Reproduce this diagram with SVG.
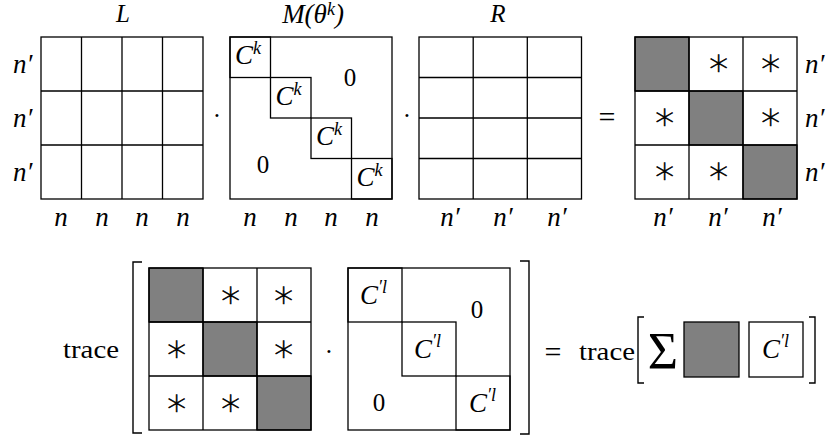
<svg xmlns="http://www.w3.org/2000/svg" width="830" height="437" viewBox="0 0 830 437">
<style>
.ln{fill:none;stroke:#000;stroke-width:1.3}
.gr{fill:#808080;stroke:#000;stroke-width:1.3}
.wb{fill:#fff;stroke:#000;stroke-width:1.3}
.br{fill:none;stroke:#000;stroke-width:1.4}
.it{font-family:"Liberation Serif","DejaVu Serif",serif;font-style:italic;font-size:27px;fill:#000}
.rm{font-family:"Liberation Serif","DejaVu Serif",serif;font-size:25px;fill:#000}
.tt{font-size:25px}
.sup{font-size:18px}
.ast{font-family:"DejaVu Sans",sans-serif;font-weight:200;font-size:38px;fill:#000;stroke:#000;stroke-width:0.6;text-anchor:middle}
.mid{text-anchor:middle}
</style>
<rect width="830" height="437" fill="#fff"/>

<g id="matrix-L">
  <rect class="ln" x="41" y="37" width="162" height="162"/>
  <path class="ln" d="M81.5 37V199M122 37V199M162.5 37V199M41 91H203M41 145H203"/>
  <text class="it tt mid" x="123" y="22">L</text>
  <text class="it" x="13" y="73">n′</text>
  <text class="it" x="13" y="127">n′</text>
  <text class="it" x="13" y="181">n′</text>
  <text class="it mid" x="61" y="226">n</text>
  <text class="it mid" x="102" y="226">n</text>
  <text class="it mid" x="142" y="226">n</text>
  <text class="it mid" x="183" y="226">n</text>
</g>

<g id="matrix-M">
  <rect class="ln" x="230" y="37" width="162" height="162"/>
  <rect class="ln" x="230" y="37" width="40.5" height="40.5"/>
  <rect class="ln" x="270.5" y="77.5" width="40.5" height="40.5"/>
  <rect class="ln" x="311" y="118" width="40.5" height="40.5"/>
  <rect class="ln" x="351.5" y="158.5" width="40.5" height="40.5"/>
  <text class="it mid" x="313" y="23">M(θ<tspan class="sup" dy="-8">k</tspan><tspan dy="8">)</tspan></text>
  <text class="it" x="235" y="64">C<tspan class="sup" dy="-10">k</tspan></text>
  <text class="it" x="275.5" y="104.5">C<tspan class="sup" dy="-10">k</tspan></text>
  <text class="it" x="316" y="145">C<tspan class="sup" dy="-10">k</tspan></text>
  <text class="it" x="356.5" y="185.5">C<tspan class="sup" dy="-10">k</tspan></text>
  <text class="rm mid" x="350" y="86">0</text>
  <text class="rm mid" x="263" y="173">0</text>
  <text class="it mid" x="250" y="226">n</text>
  <text class="it mid" x="291" y="226">n</text>
  <text class="it mid" x="331" y="226">n</text>
  <text class="it mid" x="372" y="226">n</text>
</g>

<g id="matrix-R">
  <rect class="ln" x="419" y="37" width="162.5" height="162"/>
  <path class="ln" d="M473.2 37V199M527.3 37V199M419 77.5H581.5M419 118H581.5M419 158.5H581.5"/>
  <text class="it tt mid" x="498" y="22">R</text>
  <text class="it mid" x="450" y="226">n′</text>
  <text class="it mid" x="503" y="226">n′</text>
  <text class="it mid" x="557" y="226">n′</text>
</g>

<g id="matrix-result">
  <rect class="gr" x="635" y="37" width="54" height="54"/>
  <rect class="gr" x="689" y="91" width="54" height="54"/>
  <rect class="gr" x="743" y="145" width="54" height="54"/>
  <rect class="ln" x="635" y="37" width="162" height="162"/>
  <path class="ln" d="M689 37V199M743 37V199M635 91H797M635 145H797"/>
  <text class="ast" x="719" y="75">∗</text>
  <text class="ast" x="771" y="75">∗</text>
  <text class="ast" x="665" y="129">∗</text>
  <text class="ast" x="771" y="129">∗</text>
  <text class="ast" x="665" y="183">∗</text>
  <text class="ast" x="719" y="183">∗</text>
  <text class="it" x="805" y="73">n′</text>
  <text class="it" x="805" y="127">n′</text>
  <text class="it" x="805" y="181">n′</text>
  <text class="it mid" x="663" y="226">n′</text>
  <text class="it mid" x="718" y="226">n′</text>
  <text class="it mid" x="772" y="226">n′</text>
</g>

<g id="operators-top">
  <text class="rm mid" x="217" y="124">·</text>
  <text class="rm mid" x="407" y="124">·</text>
  <text class="rm mid" x="607" y="127" style="font-size:30px">=</text>
</g>

<g id="matrix-bottom-left">
  <rect class="gr" x="149" y="268" width="54" height="54"/>
  <rect class="gr" x="203" y="322" width="54" height="54"/>
  <rect class="gr" x="257" y="376" width="54" height="54"/>
  <rect class="ln" x="149" y="268" width="162" height="162"/>
  <path class="ln" d="M203 268V430M257 268V430M149 322H311M149 376H311"/>
  <text class="ast" x="231" y="307">∗</text>
  <text class="ast" x="284" y="307">∗</text>
  <text class="ast" x="177" y="361">∗</text>
  <text class="ast" x="284" y="361">∗</text>
  <text class="ast" x="177" y="415">∗</text>
  <text class="ast" x="231" y="415">∗</text>
</g>

<g id="matrix-bottom-right">
  <rect class="ln" x="348" y="268" width="162" height="162"/>
  <rect class="ln" x="348" y="268" width="54" height="54"/>
  <rect class="ln" x="402" y="322" width="54" height="54"/>
  <rect class="ln" x="456" y="376" width="54" height="54"/>
  <text class="it" x="360" y="304">C<tspan class="sup" dy="-11">′l</tspan></text>
  <text class="it" x="414" y="358">C<tspan class="sup" dy="-11">′l</tspan></text>
  <text class="it" x="469" y="412">C<tspan class="sup" dy="-11">′l</tspan></text>
  <text class="rm mid" x="477" y="318">0</text>
  <text class="rm mid" x="379" y="411">0</text>
</g>

<g id="trace-left">
  <text class="rm" x="63" y="358" textLength="56" lengthAdjust="spacingAndGlyphs">trace</text>
  <path class="br" d="M142 262H133V433H142"/>
  <path class="br" d="M520 261H529V434H520"/>
  <text class="rm mid" x="329" y="360">·</text>
  <text class="rm mid" x="553" y="362" style="font-size:30px">=</text>
</g>

<g id="trace-right">
  <text class="rm" x="579" y="360" textLength="56" lengthAdjust="spacingAndGlyphs">trace</text>
  <path class="br" d="M644 317H638V383H644"/>
  <text class="rm mid" x="663" y="369" style="font-size:52px">Σ</text>
  <rect class="gr" x="684" y="322" width="55" height="55"/>
  <rect class="wb" x="749" y="322" width="54" height="55"/>
  <text class="it" x="762" y="358">C<tspan class="sup" dy="-11">′l</tspan></text>
  <path class="br" d="M809 317H815V383H809"/>
</g>
</svg>
